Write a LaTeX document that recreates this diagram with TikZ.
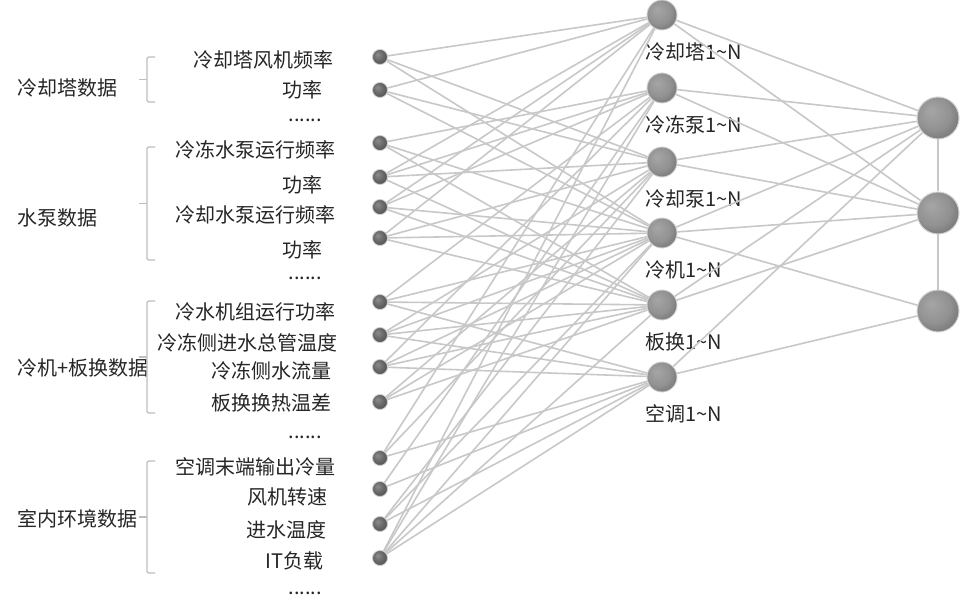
\documentclass[tikz,border=0pt]{standalone}
\usepackage{fontspec}
\setmainfont{Noto Sans CJK SC}
\definecolor{linkgray}{RGB}{200,200,200}
\definecolor{txtgray}{RGB}{38,38,38}
\newcommand{\moredots}{......}
\pgfdeclareradialshading{darkball}{\pgfpoint{-9bp}{9bp}}{color(0bp)=(black!45);color(18bp)=(black!60);color(40bp)=(black!75);color(50bp)=(black!80)}
\pgfdeclareradialshading{lightball}{\pgfpoint{-9bp}{9bp}}{color(0bp)=(black!35);color(20bp)=(black!43);color(40bp)=(black!62);color(50bp)=(black!70)}
\begin{document}
\begin{tikzpicture}[x=1pt,y=-1pt,
    font=\fontsize{20pt}{24pt}\selectfont, text=txtgray,
    link/.style={draw=linkgray,line width=1.6pt},
    brk/.style={draw=linkgray!95!black,line width=1.4pt,rounded corners=1.5pt},
    innode/.style={circle,inner sep=0pt,minimum size=15pt,draw=gray!40,line width=0.8pt,shading=darkball},
    hidnode/.style={circle,inner sep=0pt,minimum size=30pt,draw=gray!35,line width=0.9pt,shading=lightball},
    outnode/.style={circle,inner sep=0pt,minimum size=42pt,draw=gray!35,line width=1pt,shading=lightball}]
    \useasboundingbox (0,0) rectangle (960,612);
    \fill[white] (0,0) rectangle (960,612);
    % groups
    \node[anchor=west] (g1) at (14,88) {冷却塔数据};
    \node[anchor=west] (g2) at (14,218) {水泵数据};
    \node[anchor=west] (g3) at (14,368) {冷机+板换数据};
    \node[anchor=west] (g4) at (14,519) {室内环境数据};
    \foreach \t/\b in {57/102,147/260,301/413,461/573}{
        \draw[brk] (155,\t) -- (147,\t) -- (147,\b) -- (155,\b);
        \draw[brk] (147,{(\t+\b)/2}) -- (139,{(\t+\b)/2});%tick
    }
    % items
    \foreach \x/\y/\t [count=\n] in {334/60/冷却塔风机频率,323/90/功率,322/120/\moredots,
        336/150/冷冻水泵运行频率,323/185/功率,336/215/冷却水泵运行频率,323/250/功率,322/278/\moredots,
        336/312/冷水机组运行功率,338/343/冷冻侧进水总管温度,332/371/冷冻侧水流量,332/403/板换换热温差,322/437/\moredots,
        336/467/空调末端输出冷量,328/497/风机转速,327/530/进水温度,324/561/IT负载,322/593/\moredots}{
        \node[anchor=east,inner sep=0pt] (lab\n) at (\x,\y) {\t};
    }
    % layers
    \foreach \y [count=\i] in {57,90,143,177,207,238,302,335,367,402,458,489,524,558}{
        \node[innode] (in\i) at (380,\y) {};
    }
    \foreach \y/\t [count=\m] in {15/冷却塔,88/冷冻泵,162/冷却泵,233/冷机,305/板换,377/空调}{
        \node[hidnode] (mid\m) at (662,\y) {};
        \node[anchor=west,inner sep=0pt] (mlab\m) at (645,\y+37) {\t1\textasciitilde N};
    }
    \foreach \y [count=\r] in {118,213,311}{
        \node[outnode] (out\r) at (938,\y) {};
    }
    % links
    \foreach \i/\ms in {1/{1,3,4},2/{1,3,4},3/{2,4,5},4/{1,2,3,5},5/{1,2,4,5},6/{1,3,4,5},
        7/{2,4,5,6},8/{3,4,5,6},9/{2,4,5,6},10/{3,4,5},11/{1,3,6},12/{2,6},13/{3,4,6},14/{1,2,4,5,6}}{
        \foreach \m in \ms {\draw[link] (in\i) -- (mid\m);}
    }
    \foreach \m/\rs in {1/{1,2},2/{1,2},3/{1,2},4/{1,2,3},5/{1,2},6/{1,3}}{
        \foreach \r in \rs {\draw[link] (mid\m) -- (out\r);}
    }
    \draw[link] (out1) -- (out2) -- (out3);
\end{tikzpicture}
\end{document}
